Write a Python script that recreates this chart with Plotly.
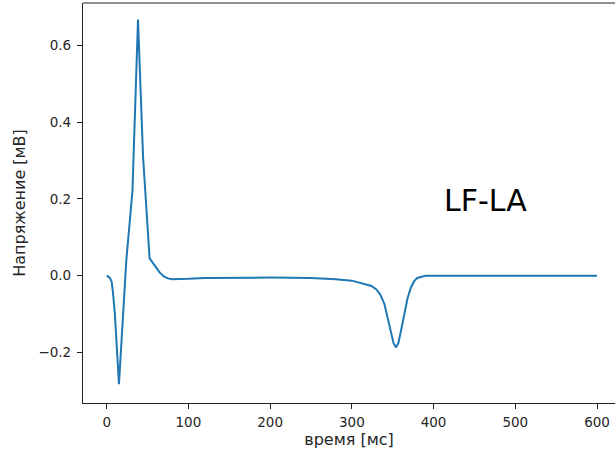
import plotly.graph_objects as go

# time [ms]
time_ms = [0, 2, 4, 6, 7.5, 10, 12.5, 15, 24, 31.5, 38.3, 44.5, 52.5, 56, 60, 65, 70, 75, 80,
           90, 100, 120, 150, 200, 250, 280, 300, 310, 318, 324, 330, 335, 340, 344, 348,
           351, 354, 357, 360, 364, 368, 372, 376, 380, 385, 390, 400, 450, 500, 550, 600]
# voltage [mV]
voltage_mv = [0.0, -0.002, -0.006, -0.015, -0.04, -0.10, -0.19, -0.283, 0.04, 0.22, 0.668,
              0.31, 0.045, 0.035, 0.022, 0.008, -0.002, -0.007, -0.009,
              -0.009, -0.008, -0.006, -0.005, -0.005, -0.006, -0.009, -0.013, -0.018, -0.022,
              -0.027, -0.036, -0.05, -0.075, -0.11, -0.152,
              -0.176, -0.187, -0.175, -0.145, -0.10, -0.06, -0.032, -0.015, -0.006, -0.002,
              0.0, 0.0, 0.0, 0.0, 0.0, 0.0]

x_ticks = [0, 100, 200, 300, 400, 500, 600]
x_tick_labels = ["0", "100", "200", "300", "400", "500", "600"]
y_ticks = [-0.2, 0.0, 0.2, 0.4, 0.6]
y_tick_labels = ["\u22120.2", "0.0", "0.2", "0.4", "0.6"]

label_text = "LF-LA"
x_title = "время [мс]"
y_title = "Напряжение [мВ]"

font_fam = "DejaVu Sans"
axis_col = "#222222"

fig = go.Figure()
fig.add_trace(go.Scatter(x=time_ms, y=voltage_mv, mode="lines",
                         line=dict(color="#1f77b4", width=2), showlegend=False))

fig.add_annotation(x=463, y=0.195, xref="x", yref="y", text=label_text, showarrow=False,
                   font=dict(family=font_fam, size=30, color="black"),
                   xanchor="center", yanchor="middle")

# top spine
fig.add_shape(type="line", xref="paper", yref="paper", x0=0, x1=1, y0=1, y1=1,
              line=dict(color=axis_col, width=1.2))

fig.update_layout(
    width=615, height=452,
    margin=dict(l=83, r=0, t=3, b=49),
    paper_bgcolor="white", plot_bgcolor="white",
    font=dict(family=font_fam, size=13.5, color="#262626"),
    xaxis=dict(range=[-29, 622], tickvals=x_ticks, ticktext=x_tick_labels,
               showgrid=False, zeroline=False, showline=True, linecolor=axis_col, linewidth=1.2,
               ticks="outside", ticklen=5, tickwidth=1, tickcolor=axis_col,
               title=dict(text=x_title, standoff=4), ticklabelstandoff=2),
    yaxis=dict(range=[-0.332, 0.711], tickvals=y_ticks, ticktext=y_tick_labels,
               showgrid=False, zeroline=False, showline=True, linecolor=axis_col, linewidth=1.2,
               ticks="outside", ticklen=5, tickwidth=1, tickcolor=axis_col,
               title=dict(text=y_title, standoff=8), ticklabelstandoff=3),
)

fig.write_html("out.html")
